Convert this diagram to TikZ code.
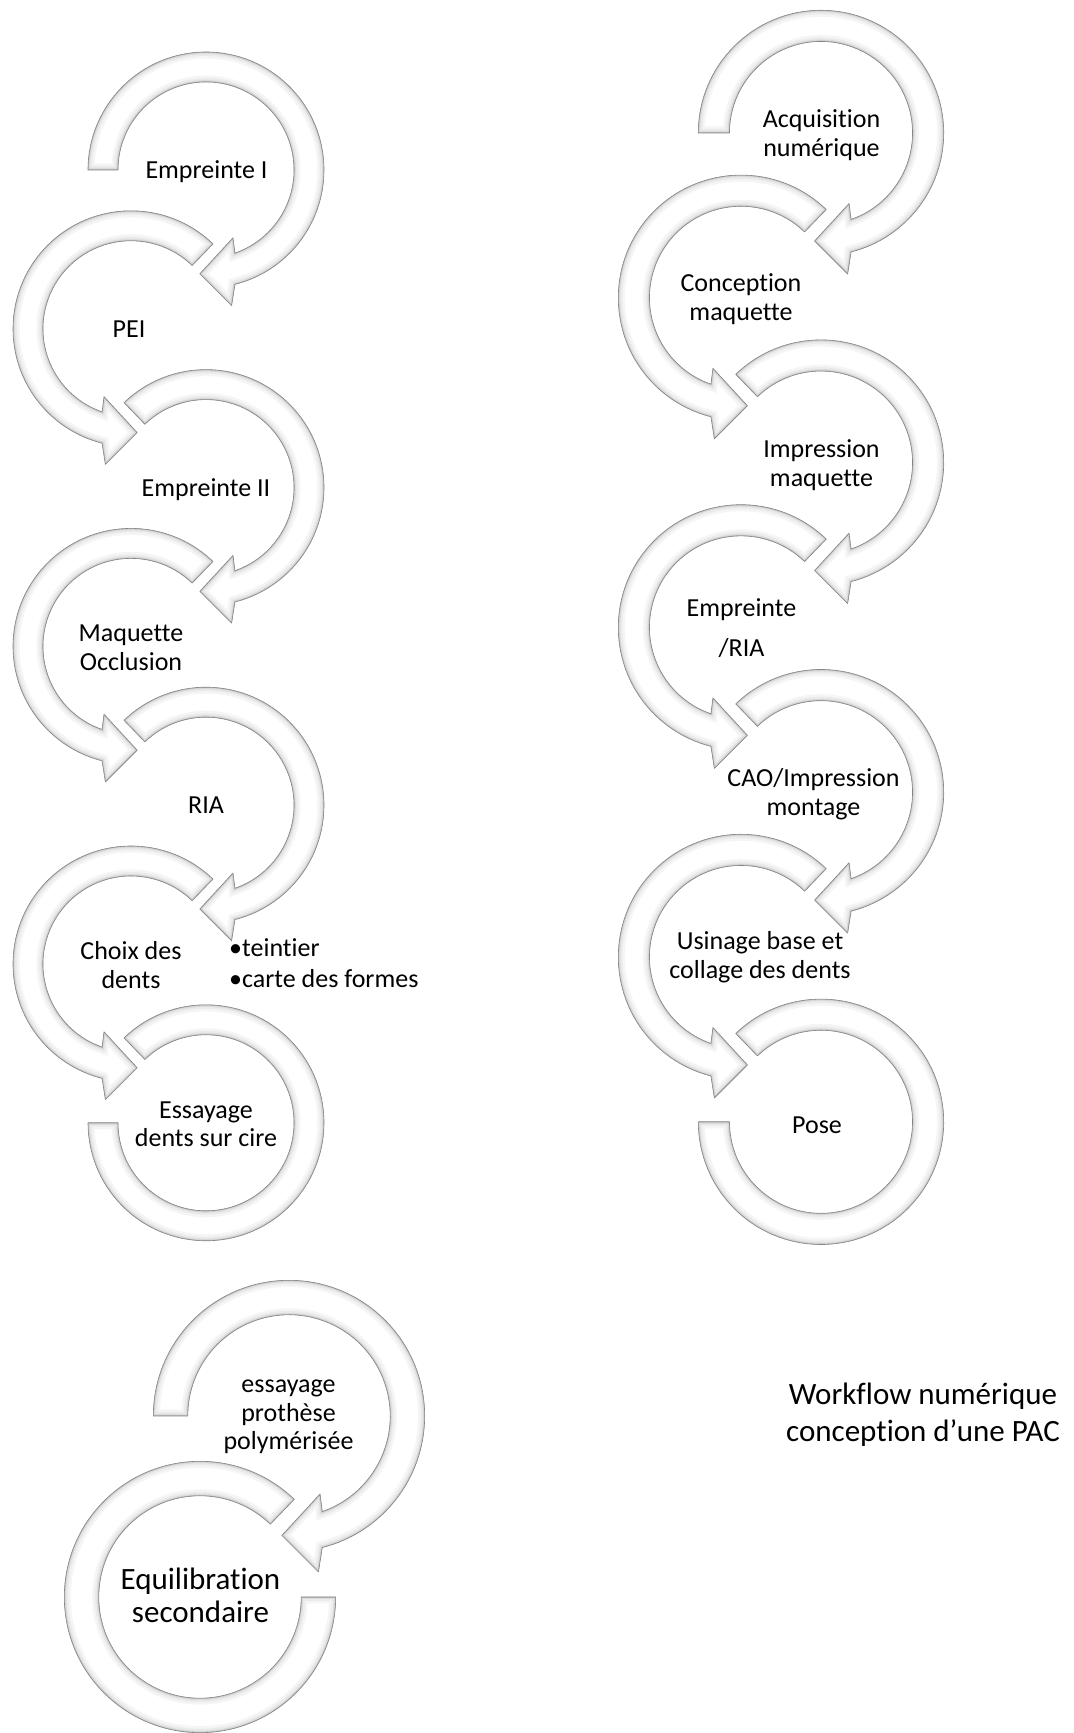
\documentclass[tikz,border=0pt]{standalone}
\usepackage{fontspec}
\setmainfont{Carlito}[Ligatures=NoCommon]
\tikzset{
  lbl/.style={inner sep=0pt, align=center, text=black},
  fleft/.style={font=\fontsize{26}{28.5}\selectfont},
  fright/.style={font=\fontsize{26}{29}\selectfont},
  fbig/.style={font=\fontsize{31}{33}\selectfont},
  ftitle/.style={font=\fontsize{31}{37}\selectfont},
  edgeline/.style={line width=0.6pt, draw=black!48, line join=round},
}
% bevelled white band drawn along the path stored in \shp
\newcommand\ringbevel{%
  \begin{scope}
    \clip \shp;
    \fill[white] \shp;
    \draw[line width=13pt, black!4] \shp;
    \draw[line width=8pt, black!8] \shp;
    \draw[line width=4pt, black!14] \shp;
    \draw[line width=1.6pt, black!24] \shp;
  \end{scope}
  \draw[edgeline] \shp;
}
% right-hand circle, clockwise, ending in an arrowhead
\newcommand\carrowR[4]{%
  \pgfmathsetmacro\ro{118*#3}\pgfmathsetmacro\ri{88*#3}%
  \pgfmathsetmacro\rbo{138*#3}\pgfmathsetmacro\rbi{73*#3}\pgfmathsetmacro\rt{104*#3}%
  \def\shp{([shift={(#1,#2)}]#4:\ro pt) arc[start angle=#4, end angle=-75.8, radius=\ro pt]
    -- ([shift={(#1,#2)}]-79.3:\rbo pt) -- ([shift={(#1,#2)}]-93.4:\rt pt)
    -- ([shift={(#1,#2)}]-68.3:\rbi pt) -- ([shift={(#1,#2)}]-70.8:\ri pt)
    arc[start angle=-70.8, end angle=#4, radius=\ri pt] -- cycle}%
  \ringbevel}
% left-hand circle, counter-clockwise, ending in an arrowhead
\newcommand\carrowL[4]{%
  \pgfmathsetmacro\ro{118*#3}\pgfmathsetmacro\ri{88*#3}%
  \pgfmathsetmacro\rbo{138*#3}\pgfmathsetmacro\rbi{73*#3}\pgfmathsetmacro\rt{104*#3}%
  \def\shp{([shift={(#1,#2)}]#4:\ro pt) arc[start angle=#4, end angle=255.8, radius=\ro pt]
    -- ([shift={(#1,#2)}]259.3:\rbo pt) -- ([shift={(#1,#2)}]273.4:\rt pt)
    -- ([shift={(#1,#2)}]248.3:\rbi pt) -- ([shift={(#1,#2)}]250.8:\ri pt)
    arc[start angle=250.8, end angle=#4, radius=\ri pt] -- cycle}%
  \ringbevel}
% last right-hand circle: clockwise to a flat end on the left
\newcommand\cendR[4]{%
  \pgfmathsetmacro\ro{118*#3}\pgfmathsetmacro\ri{88*#3}%
  \def\shp{([shift={(#1,#2)}]#4:\ro pt) arc[start angle=#4, end angle=-180, radius=\ro pt]
    -- ([shift={(#1,#2)}]-180:\ri pt)
    arc[start angle=-180, end angle=#4, radius=\ri pt] -- cycle}%
  \ringbevel}
% last left-hand circle: counter-clockwise to a flat end on the right
\newcommand\cendL[4]{%
  \pgfmathsetmacro\ro{118*#3}\pgfmathsetmacro\ri{88*#3}%
  \def\shp{([shift={(#1,#2)}]#4:\ro pt) arc[start angle=#4, end angle=360, radius=\ro pt]
    -- ([shift={(#1,#2)}]360:\ri pt)
    arc[start angle=360, end angle=#4, radius=\ri pt] -- cycle}%
  \ringbevel}
\begin{document}
\begin{tikzpicture}[x=1pt,y=1pt]
\useasboundingbox[fill=white] (0,0) rectangle (1074,1733);

% ---------- left column ----------
\carrowR{206}{1563}{1}{180}
\carrowL{131}{1404.2}{1}{46}
\carrowR{206}{1245.4}{1}{134}
\carrowL{131}{1086.6}{1}{46}
\carrowR{206}{927.8}{1}{134}
\carrowL{131}{769}{1}{46}
\cendR{206}{610.2}{1}{134}

% ---------- right column ----------
\carrowR{821}{1600}{1.04}{180}
\carrowL{741}{1435.2}{1.04}{46}
\carrowR{821}{1270.4}{1.04}{134}
\carrowL{741}{1105.6}{1.04}{46}
\carrowR{821}{940.8}{1.04}{134}
\carrowL{741}{776}{1.04}{46}
\cendR{821}{611.2}{1.04}{134}

% ---------- bottom pair ----------
\carrowR{289}{317}{1.15}{180}
\cendL{200}{136}{1.15}{46}

% ---------- texts ----------
\node[lbl, fleft] (e1) at (206.5,1559.7) {\strut Empreinte I};
\node[lbl, fleft] (e2) at (129,1400.7) {\strut PEI};
\node[lbl, fleft] (e3) at (206,1242.1) {\strut Empreinte II};
\node[lbl, fleft] (e4) at (131,1082.7) {\strut Maquette\\Occlusion\strut};
\node[lbl, fleft] (e5) at (206,924.7) {\strut RIA};
\node[lbl, fleft] (e6) at (131,764.7) {\strut Choix des\\dents\strut};
\node[lbl, align=left, anchor=west, font=\fontsize{26}{31}\selectfont] (e6b) at (229,766.7)
  {\strut\textbullet teintier\\\textbullet carte des formes\strut};
\node[lbl, fleft] (e7) at (206,606.2) {\strut Essayage\\dents sur cire\strut};

\node[lbl, fright] (a1) at (821.5,1596.3) {\strut Acquisition\\num\'erique\strut};
\node[lbl, fright] (a2) at (741,1432.6) {\strut Conception\\maquette\strut};
\node[lbl, fright] (a3) at (821.5,1266.3) {\strut Impression\\maquette\strut};
\node[lbl, fright] (a4) at (741.5,1101.8) {\strut Empreinte\\[11pt]/RIA\strut};
\node[lbl, fright] (a5) at (813.5,937.8) {\strut CAO/Impression\\montage\strut};
\node[lbl, fright] (a6) at (760,774.8) {\strut Usinage base et\\collage des dents\strut};
\node[lbl, fright] (a7) at (817,604.8) {\strut Pose};

\node[lbl, fleft] (b1) at (288.5,317.2) {\strut essayage\\proth\`ese\\polym\'eris\'ee\strut};
\node[lbl, fbig] (b2) at (200.5,133.1) {\strut Equilibration\\secondaire\strut};

\node[lbl, ftitle] (title) at (923,316.9) {\strut Workflow num\'erique\\conception d’une PAC\strut};
\end{tikzpicture}
\end{document}
